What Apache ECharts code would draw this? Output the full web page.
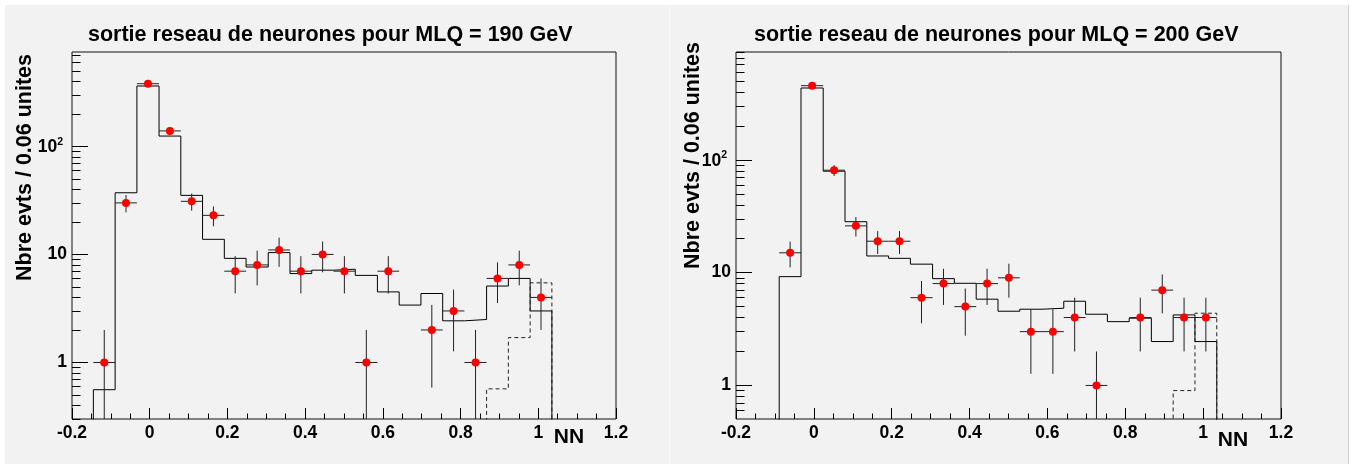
<!DOCTYPE html>
<html><head><meta charset="utf-8">
<script src="https://cdn.jsdelivr.net/npm/echarts@6/dist/echarts.min.js"></script>
<style>html,body{margin:0;padding:0;background:#fff}#c{width:1353px;height:464px}</style>
</head><body><div id="c"></div>
<script>
// ---- data ----
const binEdges = [-0.145, -0.089, -0.033, 0.024, 0.080, 0.136, 0.192, 0.248, 0.305, 0.361, 0.417,
                  0.473, 0.529, 0.586, 0.642, 0.698, 0.754, 0.810, 0.867, 0.923, 0.979, 1.035];
const xTickLabels = [-0.2, 0, 0.2, 0.4, 0.6, 0.8, 1, 1.2];

// MLQ = 190 GeV
const data190 = [1, 30, 380, 139, 31, 23, 7, 8, 11, 7, 10, 7, 1, 7, 0, 2, 3, 1, 6, 8, 4];
const mc190   = [0.56, 37.2, 362, 124.6, 35.2, 13.8, 9.2, 7.65, 10.4, 6.65, 7.15, 7.3, 6.4, 4.5, 3.4, 4.35, 2.43, 2.5, 5.1, 6.0, 3.0];
const sig190  = [0, 0, 0, 0, 0, 0, 0, 0, 0, 0, 0, 0, 0, 0, 0, 0, 0, 0, 0.57, 1.70, 5.46];

// MLQ = 200 GeV
const data200 = [0, 15, 455, 81, 26, 19, 19, 6, 8, 5, 8, 9, 3, 3, 4, 1, 0, 4, 7, 4, 4];
const mc200   = [0, 9.22, 434, 79.4, 28.3, 14.06, 13.4, 11.9, 8.85, 8.05, 5.82, 4.55, 4.74, 4.84, 5.58, 4.28, 3.68, 3.95, 2.45, 4.22, 2.45];
const sig200  = [0, 0, 0, 0, 0, 0, 0, 0, 0, 0, 0, 0, 0, 0, 0, 0, 0, 0, 0, 0.90, 4.37];

const yMajorTicks = [1, 10, 100];
const yMinor190 = [0.3, 0.4, 0.5, 0.6, 0.7, 0.8, 0.9, 2, 3, 4, 5, 6, 7, 8, 9, 20, 30, 40, 50, 60, 70, 80, 90, 200, 300, 400, 500, 600, 700];
const yMinor200 = [0.6, 0.7, 0.8, 0.9, 2, 3, 4, 5, 6, 7, 8, 9, 20, 30, 40, 50, 60, 70, 80, 90, 200, 300, 400, 500, 600, 700, 800, 900];
const yRange190 = [0.3, 747];
const yRange200 = [0.504, 905];

const titles = ['sortie reseau de neurones pour MLQ = 190 GeV', 'sortie reseau de neurones pour MLQ = 200 GeV'];
const yTitle = 'Nbre evts / 0.06 unites';
const xTitle = 'NN';

// ---- chart ----
const FONT = '"Liberation Sans", Arial, sans-serif';
const FLOOR = 1e-3;
const chart = echarts.init(document.getElementById('c'), null, {renderer: 'canvas'});

function stepData(vals) {
  const n = vals.length;
  const pts = [[binEdges[0], FLOOR]];
  for (let i = 0; i < n; i++) pts.push([binEdges[i], vals[i] > 0 ? vals[i] : FLOOR]);
  pts.push([binEdges[n], vals[n - 1] > 0 ? vals[n - 1] : FLOOR]);
  pts.push([binEdges[n], FLOOR]);
  return pts;
}
function histSeries(vals, idx, dashed) {
  return {
    type: 'line', xAxisIndex: idx * 2, yAxisIndex: idx * 2, step: 'end', data: stepData(vals),
    showSymbol: false, symbol: 'none', clip: true, z: 3, silent: true,
    lineStyle: {color: dashed ? '#222' : '#000', width: 1, type: dashed ? [4, 3] : 'solid'}
  };
}
function pointSeries(counts, idx) {
  const data = [];
  counts.forEach((c, i) => { if (c > 0) data.push([(binEdges[i] + binEdges[i + 1]) / 2, c, binEdges[i], binEdges[i + 1]]); });
  return {
    type: 'custom', xAxisIndex: idx * 2, yAxisIndex: idx * 2, clip: true, z: 5, silent: true,
    data, encode: {x: 0, y: 1},
    renderItem(params, api) {
      const x = api.value(0), y = api.value(1), lo = api.value(2), hi = api.value(3);
      const e = Math.sqrt(y);
      const p = api.coord([x, y]);
      const pl = api.coord([lo, y]), ph = api.coord([hi, y]);
      const top = api.coord([x, y + e]);
      const bot = api.coord([x, y - e > 0 ? y - e : FLOOR]);
      const ls = {stroke: '#222', lineWidth: 1};
      return {type: 'group', children: [
        {type: 'line', shape: {x1: pl[0], y1: p[1], x2: ph[0], y2: p[1]}, style: ls},
        {type: 'line', shape: {x1: p[0], y1: top[1], x2: p[0], y2: bot[1]}, style: ls},
        {type: 'circle', shape: {cx: p[0], cy: p[1], r: 4}, style: {fill: '#ff0000', stroke: null}}
      ]};
    }
  };
}
const labelStyle = {color: '#000', fontFamily: FONT, fontWeight: 'bold', fontSize: 17.5};
function xAxes(g) {
  return [
    {gridIndex: g, type: 'value', min: -0.2, max: 1.2, interval: 0.2, position: 'bottom',
     axisLine: {show: false, onZero: false}, splitLine: {show: false},
     axisTick: {show: true, inside: true, length: 11, lineStyle: {color: '#000', width: 1}},
     axisLabel: Object.assign({show: true, margin: 5, showMinLabel: true, showMaxLabel: true,
       formatter: v => { const r = Math.round(v * 10) / 10; return xTickLabels.includes(r) ? String(r) : ''; }}, labelStyle)},
    {gridIndex: g, type: 'value', min: -0.2, max: 1.2, interval: 0.05, position: 'bottom',
     axisLine: {show: false, onZero: false}, splitLine: {show: false},
     axisTick: {show: true, inside: true, length: 5.5, lineStyle: {color: '#000', width: 1}},
     axisLabel: {show: false}}
  ];
}
function yAxes(g, range, minor) {
  return [
    {gridIndex: g, type: 'log', logBase: 10, min: range[0], max: range[1], position: 'left',
     axisLine: {show: false, onZero: false}, splitLine: {show: false}, minorTick: {show: false},
     axisTick: {show: true, inside: true, length: 16, customValues: yMajorTicks, lineStyle: {color: '#000', width: 1}},
     axisLabel: Object.assign({show: true, margin: 5, customValues: yMajorTicks,
       formatter: v => { const r = Math.round(v); return r === 100 ? '{a|10}{s|2}' : String(r); },
       rich: {
         a: {fontFamily: FONT, fontWeight: 'bold', fontSize: 17.5, color: '#000', lineHeight: 20, verticalAlign: 'bottom'},
         s: {fontFamily: FONT, fontWeight: 'bold', fontSize: 10.5, color: '#000', lineHeight: 11, verticalAlign: 'top', padding: [0, 4, 0, 0]}
       }}, labelStyle)},
    {gridIndex: g, type: 'log', logBase: 10, min: range[0], max: range[1], position: 'left',
     axisLine: {show: false, onZero: false}, splitLine: {show: false},
     axisTick: {show: true, inside: true, length: 8.5, customValues: minor, lineStyle: {color: '#000', width: 1}},
     axisLabel: {show: false}}
  ];
}
function txt(text, x, y, size, extra) {
  return Object.assign({type: 'text', x, y, silent: true,
    style: {text, fill: '#000', font: 'bold ' + size + 'px ' + FONT, align: 'center', verticalAlign: 'middle'}}, extra || {});
}

const option = {
  animation: false,
  backgroundColor: '#f2f2f2',
  grid: [
    {left: 72, top: 52, width: 544, height: 367, show: true, borderColor: '#111', borderWidth: 1, backgroundColor: 'transparent'},
    {left: 736, top: 52, width: 545, height: 367, show: true, borderColor: '#111', borderWidth: 1, backgroundColor: 'transparent'}
  ],
  xAxis: [...xAxes(0), ...xAxes(1)],
  yAxis: [...yAxes(0, yRange190, yMinor190), ...yAxes(1, yRange200, yMinor200)],
  series: [
    histSeries(mc190, 0, false), histSeries(sig190, 0, true), pointSeries(data190, 0),
    histSeries(mc200, 1, false), histSeries(sig200, 1, true), pointSeries(data200, 1)
  ],
  graphic: [
    {type: 'rect', shape: {x: 0, y: 0, width: 1353, height: 5}, style: {fill: '#fff'}, silent: true},
    {type: 'rect', shape: {x: 0, y: 0, width: 5, height: 464}, style: {fill: '#fff'}, silent: true},
    {type: 'rect', shape: {x: 1349, y: 0, width: 4, height: 464}, style: {fill: '#fff'}, silent: true},
    {type: 'line', shape: {x1: 1348.5, y1: 5, x2: 1348.5, y2: 464}, style: {stroke: '#cfcfcf', lineWidth: 1}, silent: true},
    {type: 'line', shape: {x1: 669.5, y1: 5, x2: 669.5, y2: 464}, style: {stroke: '#f7f7f7', lineWidth: 1}, silent: true},
    txt(titles[0], 88, 35, 21.5, {style: {text: titles[0], fill: '#000', font: 'bold 21.5px ' + FONT, align: 'left', verticalAlign: 'middle'}}),
    txt(titles[1], 754, 35, 21.5, {style: {text: titles[1], fill: '#000', font: 'bold 21.5px ' + FONT, align: 'left', verticalAlign: 'middle'}}),
    txt(yTitle, 25.5, 167.5, 21.5, {rotation: Math.PI / 2}),
    txt(yTitle, 693, 155.5, 21.5, {rotation: Math.PI / 2}),
    txt(xTitle, 569, 437.5, 21),
    txt(xTitle, 1233, 440.5, 21)
  ]
};
chart.setOption(option);
</script>
</body></html>
